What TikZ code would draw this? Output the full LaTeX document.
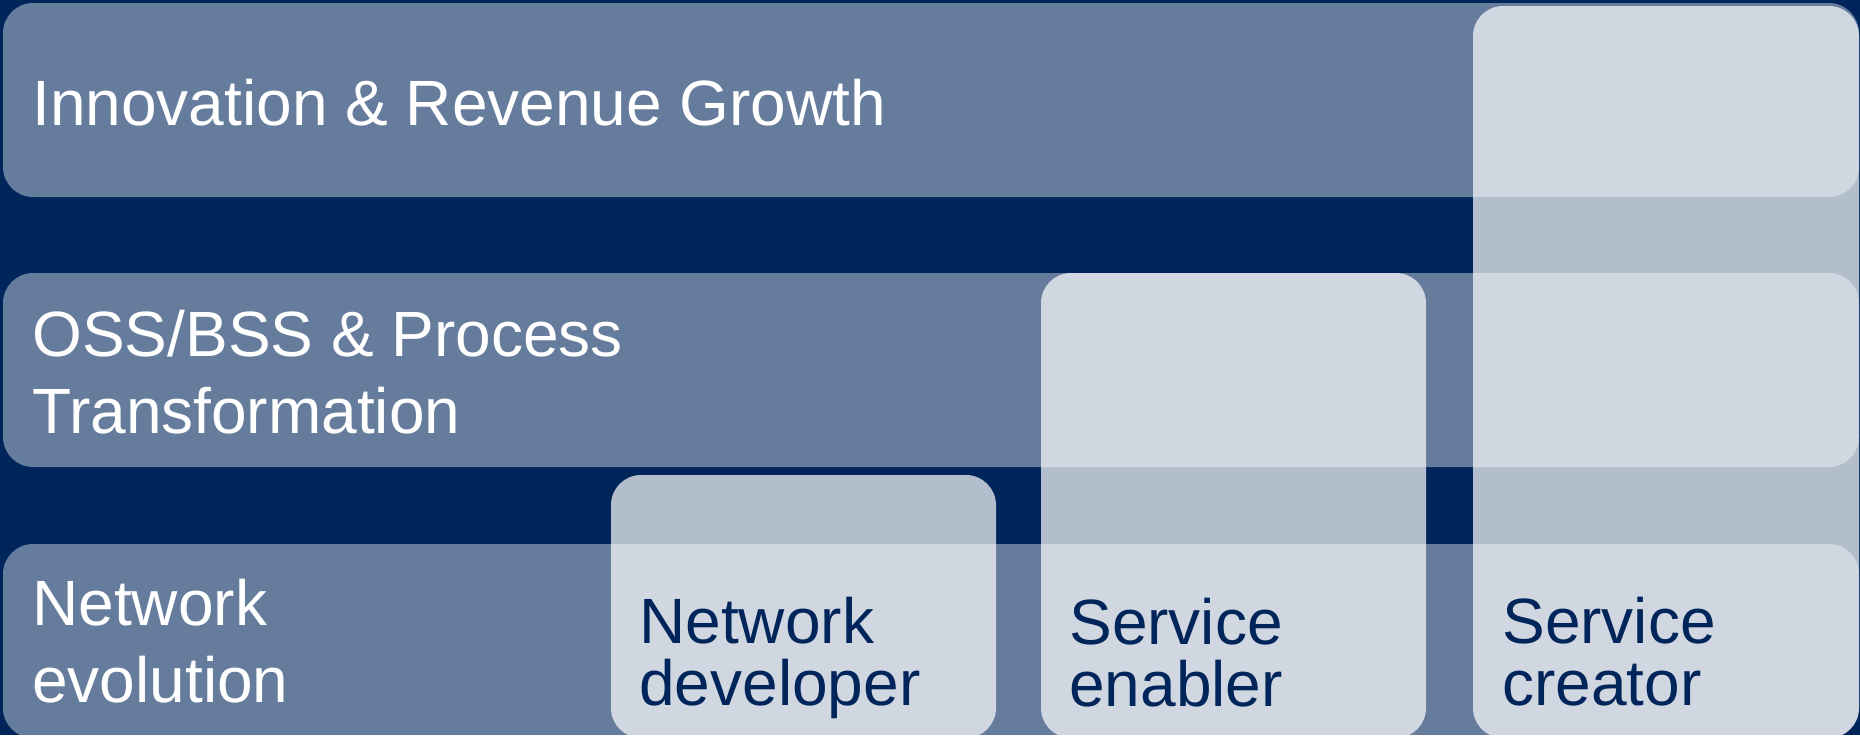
\documentclass[tikz,border=0pt]{standalone}
\usepackage{fontspec}
\setmainfont{Liberation Sans}
\definecolor{navy}{RGB}{0,37,90}
\begin{document}
\begin{tikzpicture}[x=0.5pt,y=-0.5pt,
  band/.style={fill=white, fill opacity=0.4, rounded corners=15pt},
  col/.style={fill=white, fill opacity=0.7, rounded corners=15pt},
  bandtext/.style={text=white, anchor=base west, inner sep=0pt, align=left,
    font=\fontsize{32pt}{38.5pt}\selectfont},
  coltext/.style={text=navy, anchor=base west, inner sep=0pt, align=left,
    font=\fontsize{32pt}{31pt}\selectfont}]
\useasboundingbox (0,0) rectangle (1860,735);
\clip (0,0) rectangle (1860,735);
\fill[navy] (0,0) rectangle (1860,735);
% horizontal bands
\path[band] (3,3) rectangle (1859,197);
\path[band] (3,273) rectangle (1859,467);
\path[band] (3,544) rectangle (1859,738);
% vertical columns
\path[col] (611,475) rectangle (996,738);
\path[col] (1041,273) rectangle (1426,738);
\path[col] (1473,6) rectangle (1859,738);
% band labels (anchored at the baseline of the last line)
\node[bandtext] (innov) at (32,125) {Innovation \& Revenue Growth};
\node[bandtext] (oss) at (32,433) {OSS/BSS \& Process\\Transformation};
\node[bandtext] (netevo) at (32,702) {Network\\evolution};
% column labels
\node[coltext] (netdev) at (639,705) {Network\\developer};
\node[coltext] (senabler) at (1069,706) {Service\\enabler};
\node[coltext] (screator) at (1502,705) {Service\\creator};
\end{tikzpicture}
\end{document}
